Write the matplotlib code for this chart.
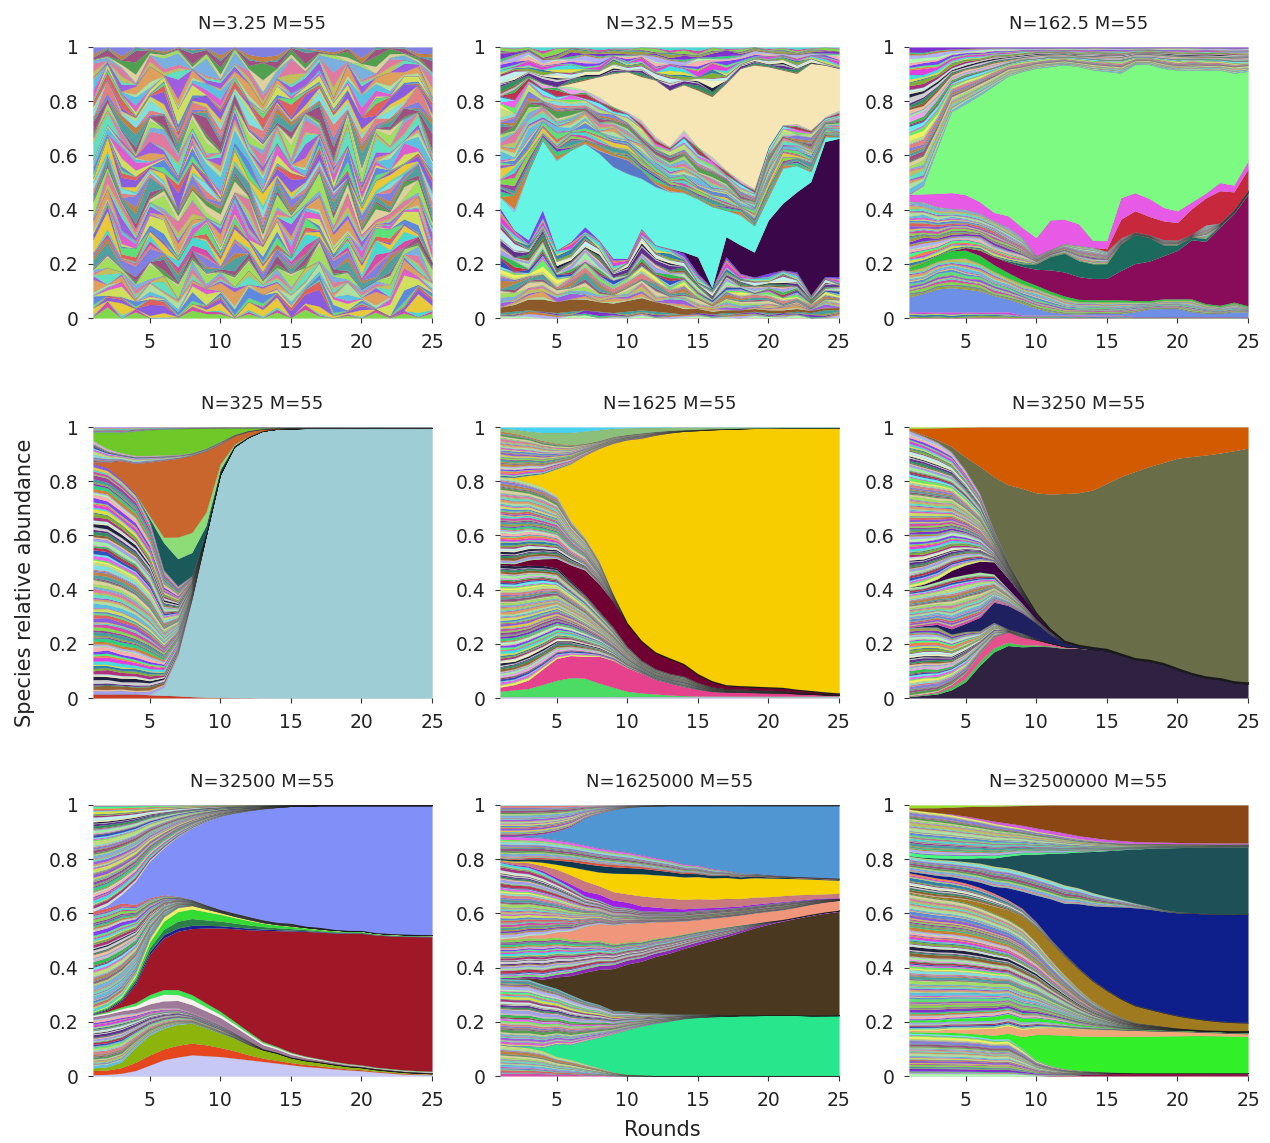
import matplotlib
matplotlib.use("Agg")
import matplotlib.pyplot as plt
import numpy as np

rounds = np.arange(1, 26)

# per-round weights of the minor species (one digit per round)
NOISE = [
    "4818203957162839405172638", "7290461538277904653812097", "1563982047315689924713568",
    "8037145926688314592601837", "2691530874122653087419965", "5402867113540286719354128",
    "9175344628917734062291753", "3846092715384669271538460", "6028513947102851394760285",
    "0753928461775392846107539", "3317294805662918374015267", "8842067153920476318859201",
    "5179930264817750396284113", "2604718893352069147785920", "9931570248866104523917742",
    "1478025396714838205569031", "6250893147528910674432896", "0386411752963387520916458",
    "7713258609140562798331074", "4195736028571294366805219", "2867049913385710259647732",
    "9540182765043926871102586", "3021567489916243058774910", "6658903124770835192456387",
    "1409324857236681470939625", "8174650392418027563318049", "5936271804859462310687713",
    "0287419563301795846225168", "7462085931694410729583306", "3198542706125963084761952",
    "6745310289978236541019487", "2053964718847109352674260", "9820147635562847019396671",
    "4371896052039558762143805", "1614723980486193427859124", "8506281497723460981235739",
    "5289037164301872654917048", "0932615847168524193670592", "7147850326694031876528413",
    "3460192578250749318846927", "6893374015817285640293156", "2715568923403916857041780",
    "9358401679142053726985234", "4027936814685712049368591", "1584209357730468915720863",
    "8291765043376195283457019", "5643187290924830671803645", "0379542618459367408196372",
]
SHARES = "52718394627183549261374856291738462571938462715934"

PALETTE = ['#7fd94a', '#d94aa8', '#4ad9d0', '#e8c93a', '#8a5de0', '#e0605d', '#5de07a', '#5d8ae0',
           '#d0e05d', '#e05dd0', '#5dc0e0', '#b0e0a0', '#e0a05d', '#a05de0', '#60e0c0', '#c0c05d',
           '#e07aa0', '#7ab0e0', '#a0e05d', '#e0d0a0', '#50a050', '#a05080', '#50a0a0', '#c08040',
           '#8080e0', '#e08080', '#80e0e0', '#c0e080', '#f0f060', '#60f060', '#f060f0', '#60f0f0',
           '#3050c0', '#c03050', '#30c050', '#f0a0f0', '#a0f0a0', '#a0a0f0', '#f0c0a0', '#906030',
           '#309060', '#603090', '#d0d0d0', '#202040', '#f0f0c0', '#c0f0f0', '#b03080', '#80b030',
           '#3080b0', '#e0e040', '#40e0e0', '#e040e0', '#ff8040', '#40ff80', '#8040ff', '#ffb0b0',
           '#b0ffb0', '#b0b0ff', '#d08030', '#30d080', '#8030d0', '#a0a040', '#40a0a0', '#a040a0']

# ---- N=3.25: only minor species, grouped in four stacked quarters
p1_q1 = [0.24, 0.3, 0.22, 0.2, 0.27, 0.24, 0.17, 0.25, 0.23, 0.19, 0.29, 0.24, 0.17, 0.26, 0.2, 0.24,
         0.3, 0.22, 0.25, 0.14, 0.2, 0.24, 0.26, 0.3, 0.2]
p1_q2 = [0.26, 0.3, 0.26, 0.26, 0.28, 0.26, 0.23, 0.28, 0.27, 0.24, 0.28, 0.26, 0.23, 0.26, 0.24, 0.26,
         0.28, 0.25, 0.27, 0.24, 0.26, 0.26, 0.27, 0.28, 0.26]
p1_q3 = [0.28, 0.28, 0.28, 0.28, 0.27, 0.27, 0.28, 0.27, 0.28, 0.29, 0.28, 0.28, 0.3, 0.27, 0.29, 0.27,
         0.27, 0.28, 0.28, 0.3, 0.28, 0.28, 0.27, 0.28, 0.28]
p1_q4 = [0.22, 0.12, 0.24, 0.26, 0.18, 0.23, 0.32, 0.2, 0.22, 0.28, 0.15, 0.22, 0.3, 0.21, 0.27, 0.23,
         0.15, 0.25, 0.2, 0.32, 0.26, 0.22, 0.2, 0.14, 0.26]

# ---- N=32.5
p2_mix_a = [0.02, 0.025, 0.03, 0.025, 0.02, 0.025, 0.03, 0.025, 0.02, 0.025, 0.03, 0.025, 0.02,
            0.015, 0.02, 0.015, 0.02, 0.02, 0.025, 0.02, 0.02, 0.025, 0.02, 0.03, 0.03]
p2_brown = [0.02, 0.025, 0.04, 0.045, 0.04, 0.045, 0.04, 0.035, 0.035, 0.04, 0.045, 0.035, 0.03,
            0.02, 0.015, 0.01, 0.01, 0.01, 0.01, 0.01, 0.01, 0.01, 0.008, 0.008, 0.008]
p2_mix_b = [0.365, 0.275, 0.218, 0.328, 0.19, 0.212, 0.267, 0.228, 0.165, 0.155, 0.255, 0.21, 0.207,
            0.205, 0.13, 0.085, 0.196, 0.135, 0.115, 0.135, 0.147, 0.135, 0.057, 0.115, 0.115]
p2_purple = [0, 0, 0, 0, 0, 0, 0, 0, 0, 0, 0, 0, 0, 0.005, 0.06, 0.002, 0.074, 0.105, 0.092, 0.197,
             0.246, 0.295, 0.418, 0.498, 0.51]
p2_cyan = [0.043, 0.068, 0.252, 0.258, 0.332, 0.338, 0.308, 0.32, 0.338, 0.314, 0.185, 0.215, 0.21,
           0.22, 0.215, 0.3, 0.098, 0.11, 0.098, 0.086, 0.13, 0.098, 0.037, 0.018, 0.006]
p2_steel = [0, 0, 0, 0, 0, 0, 0, 0.01, 0.04, 0.05, 0.03, 0.01, 0, 0, 0, 0, 0, 0, 0, 0, 0, 0, 0, 0, 0]
p2_mid = [0.381, 0.461, 0.351, 0.209, 0.271, 0.234, 0.197, 0.199, 0.181, 0.178, 0.185, 0.175, 0.166,
          0.234, 0.191, 0.185, 0.148, 0.129, 0.135, 0.185, 0.16, 0.154, 0.154, 0.074, 0.098]
p2_beige = [0, 0, 0, 0, 0, 0.012, 0.037, 0.074, 0.123, 0.148, 0.16, 0.209, 0.209, 0.166, 0.209,
            0.221, 0.32, 0.412, 0.455, 0.295, 0.203, 0.185, 0.246, 0.191, 0.154]
p2_top = [0.171, 0.146, 0.109, 0.134, 0.146, 0.134, 0.122, 0.109, 0.097, 0.091, 0.109, 0.122, 0.159,
          0.14, 0.159, 0.183, 0.134, 0.079, 0.066, 0.073, 0.085, 0.097, 0.06, 0.066, 0.079]

# ---- N=162.5
p3_bot = [0.023, 0.023, 0.023, 0.023, 0.023, 0.023, 0.023, 0.023, 0.011, 0.011, 0.011, 0.011, 0.011,
          0.011, 0.011, 0.011, 0.005, 0.005, 0.005, 0.005, 0.005, 0.005, 0.005, 0.005, 0.005]
p3_blue = [0.055, 0.068, 0.086, 0.092, 0.086, 0.08, 0.062, 0.049, 0.043, 0.025, 0.012, 0.006, 0.004,
           0.006, 0.006, 0.006, 0.018, 0.03, 0.03, 0.03, 0.018, 0.012, 0.012, 0.018, 0.018]
p3_low = [0.098, 0.098, 0.105, 0.111, 0.117, 0.105, 0.092, 0.08, 0.074, 0.074, 0.068, 0.055, 0.047,
          0.043, 0.043, 0.043, 0.037, 0.025, 0.031, 0.031, 0.043, 0.031, 0.025, 0.031, 0.018]
p3_green = [0.01, 0.015, 0.02, 0.03, 0.03, 0.03, 0.025, 0.02, 0.015, 0.012, 0.01, 0.01, 0.008, 0.008,
            0.008, 0.008, 0.006, 0.006, 0.005, 0.005, 0.005, 0.005, 0.005, 0.005, 0.005]
p3_maroon = [0, 0, 0, 0, 0.01, 0.02, 0.03, 0.04, 0.05, 0.06, 0.08, 0.09, 0.085, 0.08, 0.08, 0.11, 0.14,
             0.15, 0.16, 0.18, 0.22, 0.23, 0.29, 0.33, 0.42]
p3_teal = [0, 0, 0, 0, 0, 0, 0, 0.005, 0.01, 0.02, 0.05, 0.07, 0.06, 0.055, 0.055, 0.1, 0.11, 0.09,
           0.04, 0.02, 0.01, 0.01, 0.005, 0.005, 0.005]
p3_mix2 = [0.246, 0.227, 0.185, 0.16, 0.144, 0.141, 0.137, 0.127, 0.099, 0.03, 0.028, 0.037, 0.058,
           0.062, 0.046, 0.022, 0.01, 0.01, 0.02, 0.018, 0.01, 0.05, 0.01, 0.01, 0.01]
p3_red = [0, 0, 0, 0, 0, 0, 0, 0, 0, 0, 0, 0, 0, 0, 0.01, 0.07, 0.08, 0.07, 0.07, 0.065, 0.095, 0.1,
          0.12, 0.066, 0.08]
p3_pink = [0.025, 0.03, 0.05, 0.06, 0.055, 0.043, 0.031, 0.043, 0.037, 0.068, 0.11, 0.09, 0.08, 0.025,
           0.03, 0.08, 0.068, 0.068, 0.05, 0.043, 0.025, 0.018, 0.03, 0.025, 0.03]
p3_lgreen = [0, 0.031, 0.172, 0.308, 0.344, 0.406, 0.48, 0.529, 0.584, 0.633, 0.578, 0.578, 0.59, 0.64,
             0.633, 0.467, 0.486, 0.51, 0.517, 0.523, 0.492, 0.455, 0.418, 0.418, 0.338]
p3_top = [0.546, 0.515, 0.38, 0.245, 0.214, 0.183, 0.147, 0.11, 0.091, 0.079, 0.073, 0.066, 0.073,
          0.085, 0.091, 0.097, 0.066, 0.066, 0.079, 0.085, 0.085, 0.085, 0.085, 0.097, 0.091]

# ---- N=325
p4_red = [0.015, 0.015, 0.015, 0.015, 0.012, 0.01, 0.008, 0.005, 0.003, 0.002, 0.001, 0.001, 0, 0, 0,
          0, 0, 0, 0, 0, 0, 0, 0, 0, 0]
p4_blue = [0, 0, 0, 0, 0.002, 0.03, 0.15, 0.36, 0.6, 0.82, 0.93, 0.965, 0.985, 0.993, 0.995, 0.996,
           0.997, 0.997, 0.997, 0.997, 0.997, 0.997, 0.997, 0.997, 0.997]
p4_low = [0.85, 0.835, 0.792, 0.739, 0.64, 0.433, 0.256, 0.086, 0.01, 0.011, 0.003, 0.002, 0.001,
          0.001, 0.001, 0.001, 0.001, 0.001, 0.001, 0.001, 0.001, 0.001, 0.001, 0.001, 0.001]
p4_teal = [0, 0, 0, 0, 0.01, 0.1, 0.1, 0.086, 0.03, 0.01, 0.002, 0, 0, 0, 0, 0, 0, 0, 0, 0, 0, 0, 0, 0, 0]
p4_lgreen = [0, 0, 0, 0, 0.01, 0.02, 0.08, 0.074, 0.05, 0.02, 0.005, 0.002, 0, 0, 0, 0, 0, 0, 0, 0, 0,
             0, 0, 0, 0]
p4_orange = [0.005, 0.02, 0.068, 0.111, 0.198, 0.284, 0.29, 0.284, 0.228, 0.074, 0.031, 0.018, 0.006,
             0.002, 0.001, 0, 0, 0, 0, 0, 0, 0, 0, 0, 0]
p4_mid = [0.08, 0.05, 0.03, 0.03, 0.025, 0.02, 0.015, 0.01, 0.01, 0.01, 0.005, 0.003, 0.002, 0.001,
          0.001, 0.001, 0.001, 0.001, 0.001, 0.001, 0.001, 0.001, 0.001, 0.001, 0.001]
p4_lime = [0.03, 0.06, 0.075, 0.09, 0.095, 0.095, 0.095, 0.09, 0.075, 0.05, 0.025, 0.01, 0.003, 0.001,
           0, 0, 0, 0, 0, 0, 0, 0, 0, 0, 0]
p4_top = [0.02, 0.02, 0.02, 0.015, 0.01, 0.008, 0.006, 0.005, 0.004, 0.003, 0.003, 0.003, 0.003,
          0.003, 0.003, 0.003, 0.003, 0.003, 0.003, 0.003, 0.003, 0.003, 0.003, 0.003, 0.003]

# ---- N=1625
p5_lav = [0.005, 0.005, 0.005, 0.005, 0.005, 0.005, 0.005, 0.005, 0.005, 0.005, 0.005, 0.005, 0.005,
          0.005, 0.005, 0.005, 0.005, 0.005, 0.005, 0.005, 0.005, 0.005, 0.005, 0.005, 0.005]
p5_green = [0.02, 0.025, 0.03, 0.045, 0.06, 0.07, 0.068, 0.05, 0.035, 0.02, 0.014, 0.01, 0.006, 0.004,
            0.002, 0.002, 0.002, 0.002, 0.002, 0.002, 0.002, 0.002, 0.002, 0.002, 0.002]
p5_pink = [0.015, 0.019, 0.031, 0.056, 0.08, 0.081, 0.08, 0.099, 0.099, 0.088, 0.074, 0.053, 0.044,
           0.033, 0.025, 0.017, 0.015, 0.014, 0.013, 0.012, 0.011, 0.009, 0.007, 0.005, 0.004]
p5_low = [0.452, 0.438, 0.422, 0.383, 0.333, 0.274, 0.228, 0.167, 0.123, 0.08, 0.049, 0.041, 0.037,
          0.04, 0.025, 0.017, 0.012, 0.012, 0.011, 0.01, 0.009, 0.006, 0.005, 0.004, 0.002]
p5_maroon = [0.005, 0.008, 0.02, 0.025, 0.035, 0.06, 0.09, 0.1, 0.095, 0.085, 0.07, 0.06, 0.055, 0.045,
             0.03, 0.02, 0.012, 0.01, 0.01, 0.01, 0.01, 0.008, 0.006, 0.004, 0.003]
p5_mid = [0.319, 0.314, 0.286, 0.265, 0.231, 0.162, 0.12, 0.085, 0.028, 0.005, 0.005, 0.003, 0.003,
          0.003, 0.003, 0.003, 0.003, 0.003, 0.003, 0.003, 0.003, 0.003, 0.003, 0.003, 0.003]
p5_yellow = [0, 0.004, 0.025, 0.049, 0.099, 0.21, 0.302, 0.414, 0.556, 0.685, 0.759, 0.809, 0.84,
             0.873, 0.898, 0.926, 0.943, 0.953, 0.959, 0.965, 0.969, 0.972, 0.978, 0.984, 0.99]
p5_top = [0.169, 0.163, 0.143, 0.122, 0.093, 0.07, 0.044, 0.029, 0.025, 0.02, 0.02, 0.013, 0.009,
          0.005, 0.004, 0.003, 0.002, 0.001, 0.001, 0.001, 0.001, 0.001, 0.001, 0.001, 0.001]
p5_sage = [0.01, 0.015, 0.02, 0.03, 0.04, 0.045, 0.045, 0.04, 0.03, 0.025, 0.02, 0.015, 0.012, 0.01,
           0.008, 0.006, 0.005, 0.004, 0.003, 0.003, 0.002, 0.002, 0.002, 0.002, 0.002]
p5_cyan = [0.005, 0.008, 0.015, 0.02, 0.02, 0.02, 0.015, 0.01, 0.005, 0.003, 0.002, 0.002, 0.001,
           0.001, 0.001, 0.001, 0.001, 0.001, 0.001, 0.001, 0.001, 0.001, 0.001, 0.001, 0.001]

# ---- N=3250
p6_dark = [0.005, 0.01, 0.015, 0.03, 0.06, 0.12, 0.17, 0.2, 0.2, 0.2, 0.195, 0.185, 0.183, 0.18, 0.175,
           0.16, 0.143, 0.137, 0.125, 0.106, 0.088, 0.075, 0.069, 0.057, 0.053]
p6_green = [0.002, 0.003, 0.005, 0.01, 0.012, 0.015, 0.015, 0.012, 0.008, 0.005, 0.003, 0.002, 0.001,
            0, 0, 0, 0, 0, 0, 0, 0, 0, 0, 0, 0]
p6_pink = [0.002, 0.003, 0.005, 0.01, 0.02, 0.03, 0.04, 0.04, 0.03, 0.02, 0.01, 0.005, 0.002, 0, 0, 0,
           0, 0, 0, 0, 0, 0, 0, 0, 0]
p6_low = [0.25, 0.25, 0.24, 0.185, 0.153, 0.083, 0.054, 0.011, 0.015, 0.005, 0.003, 0.002, 0.002,
          0.002, 0.002, 0.002, 0.002, 0.002, 0.002, 0.002, 0.002, 0.002, 0.002, 0.002, 0.002]
p6_navy = [0, 0.005, 0.01, 0.02, 0.03, 0.05, 0.075, 0.09, 0.08, 0.06, 0.03, 0.012, 0.005, 0.003, 0.002,
           0, 0, 0, 0, 0, 0, 0, 0, 0, 0]
p6_mid = [0.148, 0.15, 0.16, 0.19, 0.18, 0.167, 0.104, 0.064, 0.037, 0.014, 0.01, 0.003, 0.002, 0.002,
          0.002, 0.002, 0.002, 0.002, 0.002, 0.002, 0.002, 0.002, 0.002, 0.002, 0.002]
p6_purple = [0, 0.005, 0.01, 0.025, 0.035, 0.04, 0.045, 0.04, 0.03, 0.015, 0.005, 0.002, 0, 0, 0, 0, 0,
             0, 0, 0, 0, 0, 0, 0, 0]
p6_up = [0.578, 0.556, 0.512, 0.438, 0.348, 0.251, 0.116, 0.06, 0.03, 0.015, 0.01, 0.005, 0.003, 0.003,
         0.003, 0.003, 0.003, 0.003, 0.003, 0.003, 0.003, 0.003, 0.003, 0.003, 0.003]
p6_olive = [0.002, 0.004, 0.008, 0.019, 0.049, 0.099, 0.198, 0.296, 0.389, 0.459, 0.509, 0.547, 0.56,
            0.578, 0.611, 0.654, 0.691, 0.716, 0.743, 0.778, 0.802, 0.819, 0.833, 0.852, 0.87]
p6_orange = [0.005, 0.025, 0.045, 0.07, 0.11, 0.146, 0.184, 0.22, 0.24, 0.255, 0.255, 0.248, 0.243,
             0.233, 0.209, 0.184, 0.165, 0.147, 0.132, 0.116, 0.11, 0.104, 0.097, 0.088, 0.079]
p6_lime = [0.005, 0.004, 0.003, 0.002, 0.001, 0, 0, 0, 0, 0, 0, 0, 0, 0, 0, 0, 0, 0, 0, 0, 0, 0, 0, 0, 0]

# ---- N=32500
p7_lav = [0.005, 0.006, 0.01, 0.02, 0.04, 0.06, 0.07, 0.078, 0.075, 0.072, 0.066, 0.06, 0.054, 0.048,
          0.042, 0.036, 0.032, 0.027, 0.023, 0.02, 0.015, 0.011, 0.007, 0.006, 0.005]
p7_red = [0.015, 0.016, 0.02, 0.03, 0.037, 0.04, 0.043, 0.043, 0.04, 0.033, 0.027, 0.018, 0.012, 0.01,
          0.008, 0.007, 0.006, 0.005, 0.004, 0.004, 0.003, 0.003, 0.003, 0.002, 0.002]
p7_olive = [0.01, 0.012, 0.02, 0.055, 0.074, 0.076, 0.077, 0.074, 0.062, 0.053, 0.047, 0.037, 0.031,
            0.027, 0.018, 0.015, 0.013, 0.011, 0.009, 0.008, 0.006, 0.005, 0.004, 0.003, 0.002]
p7_low = [0.179, 0.184, 0.174, 0.128, 0.095, 0.076, 0.061, 0.04, 0.036, 0.033, 0.021, 0.016, 0.004,
          0.003, 0.003, 0.003, 0.003, 0.003, 0.003, 0.003, 0.003, 0.003, 0.003, 0.003, 0.003]
p7_mauve = [0.01, 0.01, 0.012, 0.015, 0.02, 0.025, 0.027, 0.028, 0.027, 0.025, 0.022, 0.018, 0.015,
            0.012, 0.01, 0.008, 0.006, 0.005, 0.004, 0.003, 0.002, 0.002, 0.002, 0.002, 0.002]
p7_white = [0.005, 0.006, 0.008, 0.012, 0.02, 0.025, 0.022, 0.02, 0.015, 0.012, 0.01, 0.008, 0.007,
            0.006, 0.005, 0.004, 0.003, 0.002, 0.002, 0.002, 0.002, 0.002, 0.002, 0.002, 0.002]
p7_green = [0.003, 0.004, 0.006, 0.01, 0.014, 0.017, 0.018, 0.017, 0.014, 0.011, 0.009, 0.007, 0.005,
            0.004, 0.003, 0.002, 0.002, 0.002, 0.002, 0.002, 0.002, 0.002, 0.002, 0.002, 0.002]
p7_crimson = [0, 0.005, 0.02, 0.068, 0.148, 0.19, 0.215, 0.244, 0.277, 0.308, 0.342, 0.375, 0.41, 0.43,
              0.453, 0.467, 0.475, 0.482, 0.49, 0.5, 0.496, 0.498, 0.502, 0.504, 0.507]
p7_navy = [0.003, 0.004, 0.005, 0.008, 0.01, 0.012, 0.012, 0.012, 0.01, 0.008, 0.007, 0.006, 0.005,
           0.004, 0.003, 0.003, 0.002, 0.002, 0.002, 0.002, 0.001, 0.001, 0.001, 0.001, 0.001]
p7_dgreen = [0.003, 0.004, 0.006, 0.01, 0.015, 0.02, 0.025, 0.025, 0.02, 0.017, 0.014, 0.012, 0.009,
             0.007, 0.006, 0.004, 0.003, 0.003, 0.002, 0.002, 0.002, 0.002, 0.002, 0.002, 0.002]
p7_green2 = [0.003, 0.004, 0.005, 0.01, 0.02, 0.03, 0.035, 0.035, 0.03, 0.025, 0.02, 0.016, 0.012,
             0.01, 0.008, 0.006, 0.005, 0.004, 0.003, 0.003, 0.002, 0.002, 0.002, 0.001, 0.001]
p7_yellow = [0.003, 0.004, 0.006, 0.008, 0.012, 0.015, 0.015, 0.013, 0.01, 0.007, 0.005, 0.004, 0.003,
             0.002, 0.002, 0.002, 0.002, 0.002, 0.002, 0.002, 0.002, 0.002, 0.002, 0.002, 0.002]
p7_mid = [0.369, 0.362, 0.335, 0.259, 0.152, 0.083, 0.042, 0.022, 0.016, 0.011, 0.012, 0.011, 0.01,
          0.008, 0.01, 0.005, 0.006, 0.003, 0.002, 0.002, 0.002, 0.002, 0.002, 0.002, 0.002]
p7_peri = [0, 0.01, 0.03, 0.085, 0.135, 0.172, 0.22, 0.264, 0.308, 0.344, 0.369, 0.39, 0.41, 0.427,
           0.437, 0.45, 0.457, 0.465, 0.47, 0.475, 0.477, 0.481, 0.484, 0.485, 0.487]
p7_top = [0.392, 0.37, 0.325, 0.282, 0.208, 0.159, 0.116, 0.085, 0.06, 0.042, 0.03, 0.021, 0.014, 0.009,
          0.005, 0.004, 0.002, 0.002, 0.002, 0.002, 0.002, 0.002, 0.002, 0.002, 0.002]

# ---- N=1625000
p8_bot = [0.11, 0.105, 0.1, 0.09, 0.072, 0.06, 0.045, 0.03, 0.015, 0.006, 0.004, 0.002, 0.002, 0.002,
          0.002, 0.002, 0.002, 0.002, 0.002, 0.002, 0.002, 0.002, 0.002, 0.002, 0.002]
p8_green = [0, 0, 0.005, 0.012, 0.047, 0.055, 0.085, 0.11, 0.14, 0.164, 0.18, 0.192, 0.202, 0.21, 0.215,
            0.218, 0.22, 0.222, 0.222, 0.223, 0.223, 0.223, 0.223, 0.223, 0.223]
p8_low = [0.237, 0.239, 0.237, 0.225, 0.205, 0.182, 0.148, 0.12, 0.086, 0.068, 0.049, 0.038, 0.027,
          0.018, 0.012, 0.008, 0.005, 0.003, 0.002, 0.002, 0.002, 0.002, 0.002, 0.002, 0.002]
p8_brown = [0, 0.002, 0.006, 0.018, 0.043, 0.07, 0.105, 0.128, 0.154, 0.172, 0.191, 0.208, 0.225,
            0.241, 0.258, 0.274, 0.29, 0.305, 0.322, 0.335, 0.347, 0.358, 0.371, 0.379, 0.385]
p8_purple = [0.003, 0.004, 0.006, 0.008, 0.01, 0.012, 0.013, 0.014, 0.015, 0.015, 0.014, 0.013, 0.012,
             0.011, 0.01, 0.009, 0.008, 0.007, 0.006, 0.005, 0.004, 0.003, 0.003, 0.003, 0.003]
p8_mid = [0.135, 0.134, 0.135, 0.138, 0.138, 0.121, 0.104, 0.092, 0.077, 0.067, 0.06, 0.055, 0.05,
          0.044, 0.039, 0.034, 0.029, 0.021, 0.012, 0.007, 0.002, 0.002, 0.002, 0.002, 0.002]
p8_salmon = [0.003, 0.005, 0.008, 0.012, 0.018, 0.03, 0.052, 0.06, 0.068, 0.068, 0.068, 0.06, 0.055,
             0.047, 0.043, 0.04, 0.037, 0.036, 0.037, 0.036, 0.036, 0.036, 0.037, 0.037, 0.037]
p8_up = [0.272, 0.258, 0.242, 0.223, 0.195, 0.16, 0.112, 0.086, 0.07, 0.057, 0.044, 0.039, 0.037, 0.035,
         0.035, 0.032, 0.031, 0.029, 0.028, 0.028, 0.027, 0.023, 0.017, 0.012, 0.006]
p8_violet = [0.002, 0.003, 0.004, 0.006, 0.008, 0.012, 0.018, 0.022, 0.022, 0.02, 0.018, 0.015, 0.012,
             0.01, 0.008, 0.007, 0.006, 0.005, 0.005, 0.004, 0.003, 0.003, 0.003, 0.003, 0.003]
p8_rose = [0.005, 0.008, 0.012, 0.018, 0.03, 0.033, 0.037, 0.03, 0.031, 0.03, 0.037, 0.036, 0.037,
           0.035, 0.034, 0.031, 0.031, 0.027, 0.026, 0.022, 0.022, 0.02, 0.017, 0.015, 0.016]
p8_yellow = [0.002, 0.004, 0.006, 0.012, 0.018, 0.03, 0.043, 0.05, 0.068, 0.075, 0.082, 0.083, 0.084,
             0.083, 0.082, 0.079, 0.078, 0.074, 0.072, 0.069, 0.064, 0.06, 0.057, 0.053, 0.049]
p8_navy = [0.005, 0.006, 0.008, 0.012, 0.016, 0.02, 0.022, 0.024, 0.024, 0.022, 0.02, 0.018, 0.015,
           0.013, 0.011, 0.009, 0.008, 0.007, 0.006, 0.005, 0.004, 0.003, 0.003, 0.003, 0.003]
p8_red = [0.002, 0.003, 0.004, 0.005, 0.006, 0.007, 0.008, 0.008, 0.008, 0.007, 0.006, 0.005, 0.004,
          0.004, 0.003, 0.002, 0.002, 0.002, 0.002, 0.002, 0.002, 0.002, 0.002, 0.002, 0.002]
p8_up2 = [0.079, 0.081, 0.074, 0.072, 0.07, 0.065, 0.062, 0.057, 0.054, 0.051, 0.045, 0.041, 0.039,
          0.032, 0.029, 0.025, 0.017, 0.012, 0.008, 0.006, 0.004, 0.003, 0.003, 0.003, 0.003]
p8_blue = [0, 0, 0.005, 0.012, 0.031, 0.055, 0.098, 0.125, 0.148, 0.162, 0.178, 0.19, 0.202, 0.215,
           0.22, 0.232, 0.24, 0.25, 0.251, 0.256, 0.26, 0.263, 0.266, 0.268, 0.27]
p8_top = [0.109, 0.109, 0.107, 0.103, 0.097, 0.079, 0.048, 0.03, 0.017, 0.009, 0.005, 0.003, 0.002,
          0.002, 0.002, 0.002, 0.002, 0.002, 0.002, 0.002, 0.002, 0.002, 0.002, 0.002, 0.002]

# ---- N=32500000
p9_maroon = [0, 0, 0, 0, 0, 0, 0, 0, 0, 0, 0.002, 0.003, 0.005, 0.008, 0.009, 0.01, 0.01, 0.01, 0.01,
             0.01, 0.01, 0.01, 0.01, 0.01, 0.01]
p9_low = [0.155, 0.155, 0.154, 0.152, 0.15, 0.145, 0.135, 0.14, 0.105, 0.06, 0.038, 0.025, 0.017, 0.01,
          0.006, 0.003, 0.002, 0.002, 0.002, 0.002, 0.002, 0.002, 0.002, 0.002, 0.002]
p9_green = [0.005, 0.005, 0.006, 0.008, 0.008, 0.01, 0.014, 0.02, 0.045, 0.095, 0.115, 0.125, 0.128,
            0.132, 0.133, 0.134, 0.135, 0.136, 0.137, 0.137, 0.137, 0.136, 0.135, 0.134, 0.133]
p9_salmon = [0.005, 0.006, 0.008, 0.012, 0.015, 0.02, 0.025, 0.028, 0.027, 0.025, 0.026, 0.027, 0.027,
             0.026, 0.025, 0.024, 0.022, 0.02, 0.018, 0.016, 0.014, 0.012, 0.011, 0.01, 0.01]
p9_mix_a = [0.03, 0.03, 0.03, 0.03, 0.03, 0.03, 0.03, 0.03, 0.028, 0.025, 0.02, 0.015, 0.01, 0.008,
            0.006, 0.004, 0.003, 0.003, 0.003, 0.003, 0.003, 0.003, 0.003, 0.003, 0.003]
p9_green2 = [0.006, 0.006, 0.007, 0.008, 0.01, 0.012, 0.014, 0.015, 0.014, 0.012, 0.01, 0.008, 0.006,
             0.004, 0.003, 0.002, 0.002, 0.002, 0.002, 0.002, 0.002, 0.002, 0.002, 0.002, 0.002]
p9_mix_b = [0.461, 0.453, 0.447, 0.437, 0.427, 0.407, 0.379, 0.354, 0.344, 0.284, 0.226, 0.177, 0.133,
            0.094, 0.064, 0.041, 0.024, 0.019, 0.013, 0.008, 0.005, 0.004, 0.004, 0.005, 0.007]
p9_gold = [0.003, 0.004, 0.005, 0.008, 0.012, 0.018, 0.025, 0.035, 0.045, 0.055, 0.065, 0.07, 0.075,
           0.075, 0.072, 0.068, 0.062, 0.056, 0.05, 0.045, 0.04, 0.036, 0.032, 0.03, 0.028]
p9_mix_gn = [0.07, 0.07, 0.068, 0.065, 0.06, 0.055, 0.048, 0.038, 0.03, 0.02, 0.012, 0.008, 0.005,
             0.004, 0.003, 0.002, 0.002, 0.002, 0.002, 0.002, 0.002, 0.002, 0.002, 0.002, 0.002]
p9_navy = [0.006, 0.008, 0.01, 0.012, 0.014, 0.02, 0.025, 0.045, 0.065, 0.1, 0.15, 0.19, 0.24, 0.28,
           0.31, 0.34, 0.36, 0.37, 0.375, 0.38, 0.385, 0.388, 0.39, 0.393, 0.397]
p9_mix_nt = [0.055, 0.055, 0.059, 0.06, 0.065, 0.07, 0.074, 0.074, 0.075, 0.073, 0.07, 0.069, 0.059,
             0.049, 0.038, 0.027, 0.017, 0.011, 0.006, 0.004, 0.002, 0.002, 0.002, 0.002, 0.002]
p9_teal = [0.002, 0.003, 0.005, 0.008, 0.012, 0.02, 0.03, 0.045, 0.065, 0.08, 0.1, 0.12, 0.135, 0.155,
           0.17, 0.185, 0.2, 0.215, 0.23, 0.238, 0.241, 0.243, 0.244, 0.245, 0.245]
p9_mix_tb = [0.168, 0.168, 0.166, 0.159, 0.151, 0.139, 0.127, 0.113, 0.1, 0.086, 0.074, 0.063, 0.05,
             0.042, 0.033, 0.026, 0.021, 0.018, 0.016, 0.014, 0.013, 0.012, 0.011, 0.011, 0.01]
p9_magenta = [0, 0, 0, 0.003, 0.005, 0.006, 0.008, 0.01, 0.011, 0.012, 0.012, 0.012, 0.011, 0.01,
              0.009, 0.008, 0.007, 0.006, 0.005, 0.005, 0.004, 0.004, 0.004, 0.004, 0.004]
p9_brown = [0.005, 0.012, 0.018, 0.025, 0.035, 0.045, 0.055, 0.065, 0.075, 0.085, 0.095, 0.105, 0.115,
            0.123, 0.128, 0.132, 0.135, 0.137, 0.138, 0.139, 0.139, 0.139, 0.139, 0.139, 0.139]
p9_lime = [0.01, 0.01, 0.01, 0.008, 0.006, 0.005, 0.004, 0.003, 0.002, 0.001, 0, 0, 0, 0, 0, 0, 0, 0,
           0, 0, 0, 0, 0, 0, 0]

# (title, jitter of minor species, sub-splits, layers bottom -> top)
panels = [
    ("N=3.25 M=55", "wild", 2, [("mix", p1_q1, 13), ("mix", p1_q2, 13), ("mix", p1_q3, 13),
                                ("mix", p1_q4, 11)]),
    ("N=32.5 M=55", "strong", 2, [("mix", p2_mix_a, 4), ("sp", p2_brown, "#8c5a28"),
                                  ("mix", p2_mix_b, 22), ("sp", p2_purple, "#3a0848"),
                                  ("sp", p2_cyan, "#66f5e4"), ("sp", p2_steel, "#5a78c8"),
                                  ("mix", p2_mid, 22), ("sp", p2_beige, "#f7e6b5"),
                                  ("mix", p2_top, 14)]),
    ("N=162.5 M=55", "mild", 2, [("mix", p3_bot, 3), ("sp", p3_blue, "#6e8fe6"),
                                 ("mix", p3_low, 10), ("sp", p3_green, "#28c83c"),
                                 ("sp", p3_maroon, "#880c5a"), ("sp", p3_teal, "#1a6b5e"),
                                 ("mix", p3_mix2, 18), ("sp", p3_red, "#c8283c"),
                                 ("sp", p3_pink, "#e65ae6"), ("sp", p3_lgreen, "#7dfa82"),
                                 ("mix", p3_top, 26)]),
    ("N=325 M=55", "soft", 2, [("sp", p4_red, "#c83c28"), ("sp", p4_blue, "#9ecdd5"),
                               ("mix", p4_low, 48), ("sp", p4_teal, "#1a5a5a"),
                               ("sp", p4_lgreen, "#8cdc78"), ("sp", p4_orange, "#c8662d"),
                               ("mix", p4_mid, 8), ("sp", p4_lime, "#6ec828"), ("mix", p4_top, 4)]),
    ("N=1625 M=55", "soft", 2, [("sp", p5_lav, "#c8c8f0"), ("sp", p5_green, "#4cdc64"),
                                ("sp", p5_pink, "#e6418c"), ("mix", p5_low, 40),
                                ("sp", p5_maroon, "#6e0032"), ("mix", p5_mid, 28),
                                ("sp", p5_yellow, "#f8cd00"), ("mix", p5_top, 20),
                                ("sp", p5_sage, "#8cc07a"), ("sp", p5_cyan, "#46d2f0")]),
    ("N=3250 M=55", "soft", 2, [("sp", p6_dark, "#2e2240"), ("sp", p6_green, "#3cc850"),
                                ("sp", p6_pink, "#e6508c"), ("mix", p6_low, 22),
                                ("sp", p6_navy, "#1e2060"), ("mix", p6_mid, 18),
                                ("sp", p6_purple, "#3c0046"), ("mix", p6_up, 48),
                                ("sp", p6_olive, "#6a6e48"), ("sp", p6_orange, "#d25a00"),
                                ("sp", p6_lime, "#9ade28")]),
    ("N=32500 M=55", "flat", 2, [("sp", p7_lav, "#c8c8f5"), ("sp", p7_red, "#e6461e"),
                                 ("sp", p7_olive, "#8cb40a"), ("mix", p7_low, 24),
                                 ("sp", p7_mauve, "#9e7a98"), ("sp", p7_white, "#f5f0eb"),
                                 ("sp", p7_green, "#3ce650"), ("sp", p7_crimson, "#a01828"),
                                 ("sp", p7_navy, "#1e1e96"), ("sp", p7_dgreen, "#2a8046"),
                                 ("sp", p7_green2, "#32dc32"), ("sp", p7_yellow, "#f0f064"),
                                 ("mix", p7_mid, 34), ("sp", p7_peri, "#8090f8"),
                                 ("mix", p7_top, 38)]),
    ("N=1625000 M=55", "flat", 2, [("mix", p8_bot, 14), ("sp", p8_green, "#28e68c"),
                                   ("mix", p8_low, 30), ("sp", p8_brown, "#4a3820"),
                                   ("sp", p8_purple, "#8c28b4"), ("mix", p8_mid, 18),
                                   ("sp", p8_salmon, "#f0967a"), ("mix", p8_up, 30),
                                   ("sp", p8_violet, "#a01ee6"), ("sp", p8_rose, "#c8787e"),
                                   ("sp", p8_yellow, "#f8d200"), ("sp", p8_navy, "#0e3a50"),
                                   ("sp", p8_red, "#e6503c"), ("mix", p8_up2, 10),
                                   ("sp", p8_blue, "#5096d2"), ("mix", p8_top, 14)]),
    ("N=32500000 M=55", "flat", 2, [("sp", p9_maroon, "#8c1446"), ("mix", p9_low, 20),
                                    ("sp", p9_green, "#32f028"), ("sp", p9_salmon, "#f0a878"),
                                    ("mix", p9_mix_a, 5), ("sp", p9_green2, "#32f028"),
                                    ("mix", p9_mix_b, 48), ("sp", p9_gold, "#a07a1e"),
                                    ("mix", p9_mix_gn, 8), ("sp", p9_navy, "#0e1f8c"),
                                    ("mix", p9_mix_nt, 8), ("sp", p9_teal, "#1e5058"),
                                    ("mix", p9_mix_tb, 20), ("sp", p9_magenta, "#d25ae6"),
                                    ("sp", p9_brown, "#8c4614"), ("sp", p9_lime, "#96dc28")]),
]

JITTER = {"wild": lambda d: (d + 1) ** 3, "strong": lambda d: (d + 1) ** 2,
          "mild": lambda d: d + 6, "soft": lambda d: d + 18}


def split_minor(total, n, mode, start, sub):
    """Share a band of minor-species abundance between n species."""
    w = []
    for i in range(n):
        d = np.array([int(c) for c in NOISE[(start + i) % len(NOISE)]], float)
        if mode in JITTER:
            w.append(JITTER[mode](d))
        else:
            w.append(np.full(25, int(SHARES[(start + i) % len(SHARES)]) + 1.0))
    w = np.array(w)
    parts = w / w.sum(axis=0) * np.asarray(total, float)
    if sub > 1:
        out = []
        for i, p in enumerate(parts):
            f = np.array([int(SHARES[(start + 3 * i + k) % len(SHARES)]) + 1 for k in range(sub)], float)
            out.extend(p * fk for fk in f / f.sum())
        parts = np.array(out)
    return parts


def build(layers, mode, sub, seed):
    rows, cols = [], []
    k = seed
    for kind, vals, spec in layers:
        if kind == "sp":
            rows.append(np.asarray(vals, float))
            cols.append(spec)
        else:
            parts = split_minor(vals, spec, mode, k, sub)
            for j, p in enumerate(parts):
                rows.append(p)
                cols.append(PALETTE[(5 * k + j) % len(PALETTE)])
            k += spec
    rows = np.array(rows)
    return rows / rows.sum(axis=0), cols


plt.rcParams['font.family'] = 'DejaVu Sans'
W, H = 1270, 1143
fig = plt.figure(figsize=(W / 100, H / 100), dpi=100)

lefts = [93, 500, 909]
tops = [47, 427, 805]
for idx, (title, mode, sub, layers) in enumerate(panels):
    r, c = divmod(idx, 3)
    ax = fig.add_axes([lefts[c] / W, 1 - (tops[r] + 271) / H, 339 / W, 271 / H])
    rows, cols = build(layers, mode, sub, seed=idx * 11)
    ax.stackplot(rounds, rows, colors=cols, linewidth=0.25, edgecolor=(0.1, 0.1, 0.1, 0.15))
    ax.set_xlim(1, 25)
    ax.set_ylim(0, 1)
    ax.set_xticks([5, 10, 15, 20, 25])
    ax.set_yticks([0, 0.2, 0.4, 0.6, 0.8, 1])
    ax.set_yticklabels(['0', '0.2', '0.4', '0.6', '0.8', '1'])
    for s in ax.spines.values():
        s.set_visible(False)
    ax.tick_params(direction='out', length=3.5, width=0.8, color='#333333', pad=7,
                   labelsize=13.5, labelcolor='#222222')
    ax.set_title(title, fontsize=13, color='#222222', pad=13)

fig.text(25 / W, 1 - 583 / H, "Species relative abundance", rotation=90, ha='center', va='center',
         fontsize=15, color='#222222')
fig.text(662 / W, 1 - 1130 / H, "Rounds", ha='center', va='center', fontsize=15, color='#222222')

fig.savefig("out.png", dpi=100)
